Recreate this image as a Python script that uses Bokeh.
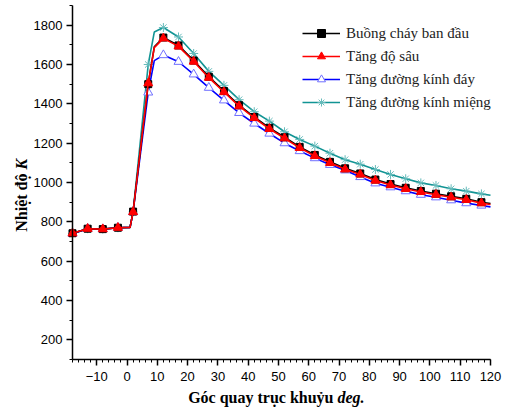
import math
from bokeh.plotting import figure
from bokeh.models import (Range1d, FixedTicker, Legend, LegendItem, Label)
from bokeh.embed import file_html
from bokeh.resources import INLINE

# ---- data ----
line_x = [-18, -13, -8, -3, 1, 2, 7, 9, 12, 17, 22, 27, 32, 37, 42, 47, 52, 57,
          62, 67, 72, 77, 82, 87, 92, 97, 102, 107, 112, 117, 120]
marker_x = [-18, -13, -8, -3, 2, 7, 12, 17, 22, 27, 32, 37, 42, 47, 52, 57,
            62, 67, 72, 77, 82, 87, 92, 97, 102, 107, 112, 117]

ban_dau = [742, 765, 763, 770, 772, 852, 1500, 1690, 1737, 1697, 1620, 1538, 1465,
           1393, 1333, 1278, 1230, 1181, 1140, 1105, 1072, 1046, 1015, 992, 973,
           957, 943, 930, 917, 900, 893]
do_sau = [742, 765, 763, 770, 772, 850, 1505, 1686, 1733, 1692, 1615, 1533, 1460,
          1388, 1328, 1273, 1225, 1176, 1135, 1100, 1067, 1041, 1010, 987, 968,
          952, 938, 925, 912, 895, 888]
kinh_day = [740, 765, 763, 770, 772, 850, 1458, 1620, 1648, 1614, 1550, 1482, 1418,
            1354, 1300, 1249, 1200, 1160, 1124, 1090, 1062, 1028, 996, 976, 956,
            938, 925, 910, 895, 883, 876]
kinh_mieng = [740, 765, 763, 770, 772, 850, 1600, 1765, 1788, 1740, 1656, 1565, 1494,
              1421, 1360, 1312, 1258, 1219, 1185, 1149, 1116, 1093, 1066, 1041, 1019,
              998, 985, 968, 956, 942, 935]

labels = ["Buồng cháy ban đầu", "Tăng độ sâu", "Tăng đường kính đáy",
          "Tăng đường kính miệng"]

x_ticks = [-10, 0, 10, 20, 30, 40, 50, 60, 70, 80, 90, 100, 110, 120]
x_minor = list(range(-18, 121, 2))
y_ticks = [200, 400, 600, 800, 1000, 1200, 1400, 1600, 1800]
y_minor = list(range(100, 1901, 100))
X_LO, X_HI = -18, 120
Y_LO, Y_HI = 100, 1900

# ---- layout: frame covers the whole canvas, axes pinned at data positions ----
W, H = 503, 408
AX_L, AX_R = 72.0, 490.0      # pixel x of X_LO and X_HI
AX_T, AX_B = 5.0, 359.0       # pixel y of Y_HI and Y_LO
kx = (X_HI - X_LO) / (AX_R - AX_L)
ky = (Y_HI - Y_LO) / (AX_B - AX_T)
xr = Range1d(X_LO - AX_L * kx, X_HI + (W - AX_R) * kx)
yr = Range1d(Y_LO - (H - AX_B) * ky, Y_HI + AX_T * ky)

p = figure(width=W, height=H, output_backend="svg", toolbar_location=None,
           x_range=xr, y_range=yr,
           min_border_left=0, min_border_right=0, min_border_top=0,
           min_border_bottom=0)
p.outline_line_color = None
p.xgrid.visible = False
p.ygrid.visible = False
p.background_fill_color = "white"

p.xaxis.fixed_location = Y_LO
p.yaxis.fixed_location = X_LO
p.xaxis.bounds = (X_LO, X_HI)
p.yaxis.bounds = (Y_LO, Y_HI)

for ax, t, m in ((p.xaxis, x_ticks, x_minor), (p.yaxis, y_ticks, y_minor)):
    ax.ticker = FixedTicker(ticks=t, minor_ticks=m)
    ax.axis_line_width = 1.5
    ax.axis_line_color = "black"
    ax.major_tick_line_color = "black"
    ax.minor_tick_line_color = "black"
    ax.major_tick_line_width = 1.5
    ax.minor_tick_line_width = 1
    ax.major_tick_in = 0
    ax.major_tick_out = 6
    ax.minor_tick_in = 0
    ax.minor_tick_out = 3
    ax.major_label_text_font = "Liberation Sans"
    ax.major_label_text_font_size = "13px"
    ax.major_label_text_color = "black"
    ax.major_label_standoff = 4
p.xaxis.major_label_standoff = 6

sel = [line_x.index(v) for v in marker_x]

styles = [
    (ban_dau, "#000000", dict(marker="square", size=7, fill_color="#000000", line_color="#000000")),
    (do_sau, "#FF0000", dict(marker="triangle", size=9, fill_color="#FF0000", line_color="#FF0000")),
    (kinh_day, "#0000FF", dict(marker="triangle", size=9, fill_color="white", line_color="#7070FF")),
    (kinh_mieng, "#119494", dict(marker="asterisk", size=9, fill_color=None, line_color="#66BBBB")),
]

renders = {}
for idx in [3, 2, 0, 1]:
    vals, col, mk = styles[idx]
    lr = p.line(line_x, vals, line_color=col, line_width=1.6)
    mr = p.scatter(marker_x, [vals[j] for j in sel], **mk)
    renders[idx] = [lr, mr]

legend = Legend(items=[LegendItem(label=labels[i], renderers=renders[i]) for i in range(4)],
                location=(297, H - 117))
legend.border_line_alpha = 0
legend.background_fill_alpha = 0
legend.label_text_font = "Liberation Serif"
legend.label_text_font_size = "15px"
legend.label_text_color = "#222222"
legend.glyph_width = 38
legend.glyph_height = 20
legend.label_height = 20
legend.spacing = 3
legend.padding = 5
legend.margin = 0
legend.label_standoff = 6
p.add_layout(legend, "center")

# axis titles (bold + bold italic parts)
lab_font = "Liberation Serif"
xl_x = X_LO + (337 - AX_L) * kx
xl_y = Y_LO - (397 - AX_B) * ky
yl_x = X_LO - (AX_L - 21) * kx
yl_y = Y_LO + (AX_B - 169) * ky
p.add_layout(Label(x=xl_x, y=xl_y, text="Góc quay trục khuỷu ", text_align="right",
                   text_baseline="middle", text_font=lab_font, text_font_style="bold",
                   text_font_size="16px", text_color="black"))
p.add_layout(Label(x=xl_x, y=xl_y, text="deg.", text_align="left",
                   text_baseline="middle", text_font=lab_font, text_font_style="bold italic",
                   text_font_size="16px", text_color="black"))
p.add_layout(Label(x=yl_x, y=yl_y, text="Nhiệt độ ", angle=math.pi / 2, text_align="right",
                   text_baseline="middle", text_font=lab_font, text_font_style="bold",
                   text_font_size="16px", text_color="black"))
p.add_layout(Label(x=yl_x, y=yl_y, text="K", angle=math.pi / 2, text_align="left",
                   text_baseline="middle", text_font=lab_font, text_font_style="bold italic",
                   text_font_size="16px", text_color="black"))

open("out.html", "w").write(file_html(p, INLINE))
